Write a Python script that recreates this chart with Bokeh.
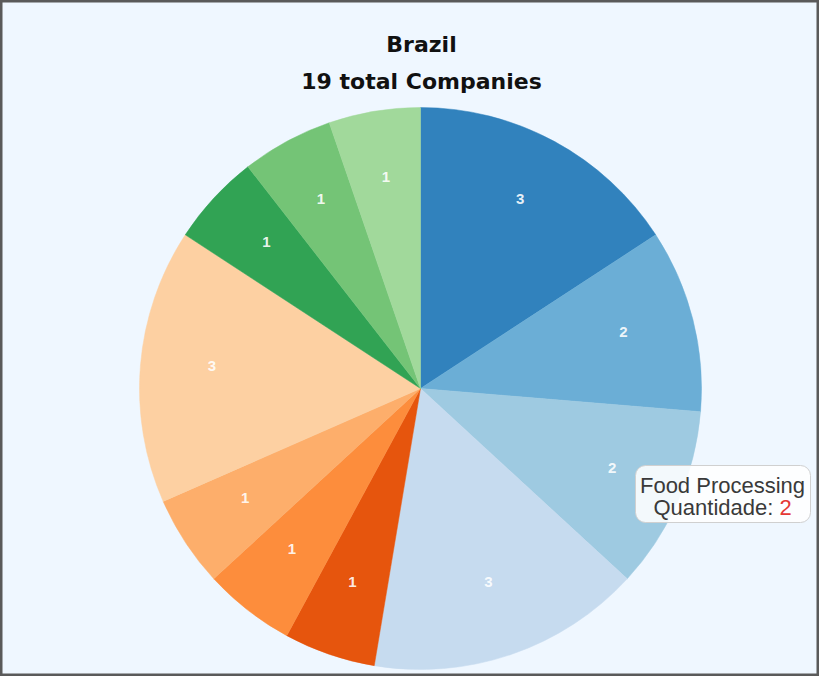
import math
from bokeh.plotting import figure
from bokeh.models import Range1d, ColumnDataSource
from bokeh.core.properties import value
from bokeh.embed import file_html
from bokeh.resources import INLINE

# ---- data ----
country = "Brazil"
counts = [3, 2, 2, 3, 1, 1, 1, 3, 1, 1, 1]
palette = ["#3182bd", "#6baed6", "#9ecae1", "#c6dbef",
           "#e6550d", "#fd8d3c", "#fdae6b", "#fdd0a2",
           "#31a354", "#74c476", "#a1d99b"]
tooltip_sector = "Food Processing"
tooltip_index = 2
tooltip_label = "Quantidade:"

total = sum(counts)

W, H = 819, 676
p = figure(width=W, height=H, output_backend="svg", toolbar_location=None,
           x_range=Range1d(-420, 399), y_range=Range1d(-288, 388),
           min_border=0, background_fill_color="#eff7ff",
           border_fill_color="#eff7ff")
p.axis.visible = False
p.grid.visible = False
p.outline_line_color = "#5a5a5a"
p.outline_line_width = 4

R = 281
starts, ends, mids = [], [], []
cum = 0
for c in counts:
    a0 = math.pi / 2 - cum / total * 2 * math.pi
    cum += c
    a1 = math.pi / 2 - cum / total * 2 * math.pi
    starts.append(a0)
    ends.append(a1)
    mids.append((a0 + a1) / 2)

src = ColumnDataSource(dict(
    start=starts, end=ends, color=palette[:len(counts)],
    lx=[0.745 * R * math.cos(m) for m in mids],
    ly=[0.745 * R * math.sin(m) + 5 for m in mids],
    txt=[str(c) for c in counts],
))
p.wedge(x=0, y=0, radius=R, start_angle="start", end_angle="end",
        direction="clock", fill_color="color", line_color="color",
        line_width=0.5, source=src)
p.text(x="lx", y="ly", text="txt", source=src, text_color="white",
       text_alpha=0.9, text_font=value("Liberation Sans"),
       text_font_style="bold", text_font_size="15px",
       text_align="center", text_baseline="middle")

# title
p.text(x=[1], y=[344], text=[country], text_font=value("DejaVu Sans"),
       text_font_style="bold", text_font_size="22px", text_color="#111111",
       text_align="center", text_baseline="alphabetic")
p.text(x=[1], y=[307], text=[f"{total} total Companies"],
       text_font=value("DejaVu Sans"), text_font_style="bold",
       text_font_size="22px", text_color="#111111",
       text_align="center", text_baseline="alphabetic")

# static tooltip
p.quad(left=[215], right=[390], top=[-77], bottom=[-134],
       fill_color="white", fill_alpha=0.88, line_color="#d0d0d0",
       line_width=1, border_radius=10)
p.text(x=[302], y=[-97], text=[tooltip_sector],
       text_font=value("Liberation Sans"), text_font_size="22px",
       text_color="#3a3a3a", text_align="center", text_baseline="alphabetic")
p.text(x=[233], y=[-119], text=[tooltip_label],
       text_font=value("Liberation Sans"), text_font_size="22px",
       text_color="#3a3a3a", text_align="left", text_baseline="alphabetic")
p.text(x=[359], y=[-119], text=[str(counts[tooltip_index])],
       text_font=value("Liberation Sans"), text_font_size="22px",
       text_color="#e53935", text_align="left", text_baseline="alphabetic")

open("out.html", "w").write(file_html(p, INLINE))
